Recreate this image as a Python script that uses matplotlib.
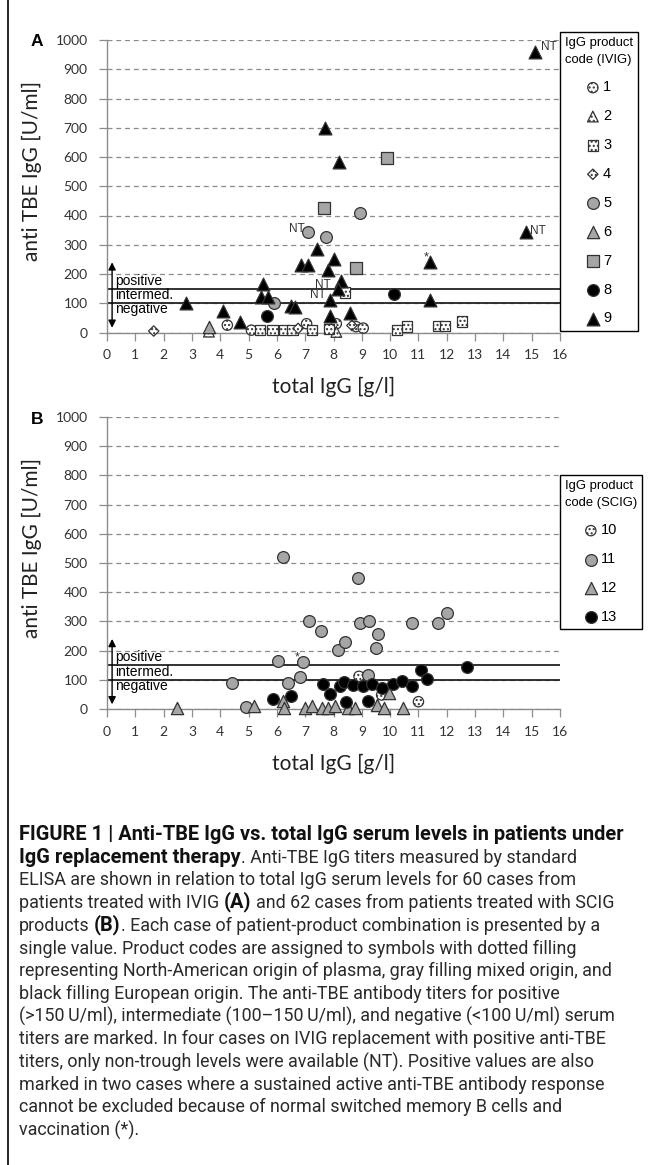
import matplotlib
matplotlib.use("Agg")
import matplotlib.pyplot as plt
from matplotlib.lines import Line2D

# ---- data: panel A (IVIG), one x / y list per product code ----
a1_x = [4.25, 5.1, 7.05, 8.1, 8.8, 9.05]
a1_y = [25, 8, 30, 30, 20, 15]
a2_x = [3.6, 8.1]
a2_y = [3, 2]
a3_x = [5.4, 5.85, 6.25, 6.55, 7.25, 7.85, 8.4, 10.25, 10.6, 11.7, 11.95, 12.55]
a3_y = [8, 8, 8, 8, 8, 12, 137, 8, 20, 22, 22, 38]
a4_x = [1.65, 6.75, 8.65]
a4_y = [5, 14, 24]
a5_x = [5.9, 7.1, 7.75, 8.95]
a5_y = [100, 345, 325, 410]
a6_x = [3.6]
a6_y = [20]
a7_x = [7.65, 8.8, 9.9]
a7_y = [425, 220, 595]
a8_x = [5.65, 10.15]
a8_y = [58, 130]
a9_x = [2.8, 4.1, 4.7, 5.45, 5.5, 5.7, 6.5, 6.65, 6.85, 7.1, 7.4, 7.7, 7.8, 8.0,
        8.2, 8.27, 8.17, 7.88, 7.88, 8.6, 11.4, 11.4, 14.8, 15.1]
a9_y = [100, 72, 35, 120, 165, 120, 90, 88, 232, 232, 285, 700, 215, 250,
        582, 175, 150, 110, 58, 65, 240, 110, 342, 960]

# ---- data: panel B (SCIG) ----
b10_x = [8.9, 9.7, 11.0]
b10_y = [112, 48, 25]
b11_x = [4.4, 4.9, 6.05, 6.2, 6.38, 6.82, 6.93, 7.15, 7.56, 8.15, 8.4, 8.85,
         8.94, 9.22, 9.26, 9.5, 9.56, 10.77, 11.7, 12.0]
b11_y = [88, 7, 165, 519, 88, 108, 160, 302, 268, 202, 228, 448,
         296, 115, 302, 208, 258, 296, 296, 328]
b12_x = [2.47, 5.2, 6.2, 6.26, 7.0, 7.25, 7.6, 7.8, 8.05, 8.5, 8.76, 9.54, 9.8, 9.97, 10.45]
b12_y = [3, 10, 28, 3, 3, 10, 3, 3, 10, 3, 3, 14, 3, 55, 3]
b13_x = [5.86, 6.5, 7.62, 7.88, 8.23, 8.37, 8.44, 8.68, 9.03, 9.22, 9.37, 9.7,
         10.1, 10.41, 10.78, 11.1, 11.3, 12.7]
b13_y = [33, 45, 84, 50, 80, 93, 24, 82, 79, 28, 84, 72,
         85, 96, 79, 134, 103, 145]

x_ticks = list(range(0, 17))
y_ticks = list(range(0, 1001, 100))

# NT / * annotations (x, y, text)
a_notes = [(15.33, 976, "NT"), (14.95, 346, "NT"), (6.43, 353, "NT"),
           (7.35, 164, "NT"), (7.17, 127, "NT"), (11.2, 257, "*")]
b_notes = [(6.64, 175, "*")]

# marker style per product code
DOT, GRAY, BLACK = "white", "#a6a6a6", "black"
STYLE = {
    1: dict(m="o", s=55, fc=DOT, h="...."),
    2: dict(m="^", s=60, fc=DOT, h="...."),
    3: dict(m="s", s=55, fc=DOT, h="...."),
    4: dict(m="D", s=28, fc=DOT, h="...."),
    5: dict(m="o", s=72, fc=GRAY, h=None),
    6: dict(m="^", s=78, fc=GRAY, h=None),
    7: dict(m="s", s=78, fc=GRAY, h=None),
    8: dict(m="o", s=72, fc=BLACK, h=None),
    9: dict(m="^", s=85, fc=BLACK, h=None),
    10: dict(m="o", s=55, fc=DOT, h="...."),
    11: dict(m="o", s=72, fc=GRAY, h=None),
    12: dict(m="^", s=78, fc=GRAY, h=None),
    13: dict(m="o", s=72, fc=BLACK, h=None),
}

plt.rcParams["hatch.linewidth"] = 1.0

W, H = 656, 1165
fig = plt.figure(figsize=(W / 100, H / 100), dpi=100)


def fx(px):
    return px / W


def fy(py):
    return 1 - py / H


TICK = "Lato"
ARIAL = "Liberation Sans"
AXC = "#8c8c8c"


def panel(top_px, bot_px, series, notes, title, leg_top, letter):
    ax = fig.add_axes([fx(107), fy(bot_px), fx(560) - fx(107), fy(top_px) - fy(bot_px)])
    for code, xs, ys in series:
        st = STYLE[code]
        ax.scatter(xs, ys, marker=st["m"], s=st["s"], facecolor=st["fc"],
                   edgecolor="#333333", hatch=st["h"], linewidths=0.9,
                   label=str(code), zorder=3, clip_on=False)
    ax.set_xlim(0, 16)
    ax.set_ylim(0, 1000)
    ax.set_xticks(x_ticks)
    ax.set_yticks(y_ticks)
    for s in ["top", "right"]:
        ax.spines[s].set_visible(False)
    for s in ["left", "bottom"]:
        ax.spines[s].set_color(AXC)
        ax.spines[s].set_linewidth(1.0)
    ax.tick_params(colors=AXC, labelcolor="#333333", length=6, width=0.9,
                   direction="out", labelsize=10)
    ax.tick_params(axis="y", pad=8)
    ax.tick_params(axis="x", pad=6)
    for lab in ax.get_xticklabels() + ax.get_yticklabels():
        lab.set_family(TICK)
    ax.yaxis.grid(True, linestyle=(0, (4, 3)), color=AXC, lw=0.9)
    ax.set_axisbelow(True)

    ax.axhline(150, color="#222222", lw=1.3, zorder=2)
    ax.axhline(100, color="#222222", lw=1.3, zorder=2)
    ax.annotate("", xy=(0.18, 240), xytext=(0.18, 16),
                arrowprops=dict(arrowstyle="<|-|>", color="black", lw=1,
                                mutation_scale=11, shrinkA=0, shrinkB=0))
    for yv, t in [(177, "positive"), (128, "intermed."), (79, "negative")]:
        ax.text(0.28, yv, t, fontsize=10, family=ARIAL, va="center", ha="left", zorder=4)

    for xv, yv, t in notes:
        ax.text(xv, yv, t, fontsize=8.5 if t == "NT" else 9, family=ARIAL,
                color="#333333", va="center", ha="left", zorder=4)

    ax.set_ylabel("anti TBE IgG [U/ml]", fontsize=15, family=TICK, color="#222222")
    ax.yaxis.set_label_coords(-0.1435, 0.553)
    ax.set_xlabel("total IgG [g/l]", fontsize=15, family=TICK, color="#222222")
    ax.xaxis.set_label_coords(0.5, -0.153)

    leg = ax.legend(title=title, loc="upper left",
                    bbox_to_anchor=(fx(560), fy(leg_top)), bbox_transform=fig.transFigure,
                    borderaxespad=0, frameon=True, fancybox=False, edgecolor="black",
                    prop=dict(family=ARIAL, size=10.5),
                    title_fontproperties=dict(family=ARIAL, size=9.4),
                    labelspacing=1.02, handlelength=0.8, handletextpad=0.3,
                    alignment="center", borderpad=0.35, scatterpoints=1, framealpha=1)
    leg.get_frame().set_linewidth(1.0)
    leg.get_title().set_linespacing(1.5)

    fig.text(fx(37), fy(top_px + 2), letter, fontsize=12.5, weight="bold",
             family=ARIAL, ha="center", va="center")
    return ax


panel(40, 332.5,
      [(1, a1_x, a1_y), (2, a2_x, a2_y), (3, a3_x, a3_y), (4, a4_x, a4_y),
       (5, a5_x, a5_y), (6, a6_x, a6_y), (7, a7_x, a7_y), (8, a8_x, a8_y),
       (9, a9_x, a9_y)],
      a_notes, "IgG product\ncode (IVIG)", 32, "A")
panel(417, 709,
      [(10, b10_x, b10_y), (11, b11_x, b11_y), (12, b12_x, b12_y), (13, b13_x, b13_y)],
      b_notes, "IgG product\ncode (SCIG)", 475, "B")

# left frame line
fig.add_artist(Line2D([fx(8), fx(8)], [0, 1], color="black", lw=1.2))

# ---- caption ----
CAP = ["Roboto", "DejaVu Sans"]
B, R = "bold", "normal"
caption = [
    [(B, "FIGURE 1 | Anti-TBE IgG vs. total IgG serum levels in patients under")],
    [(B, "IgG replacement therapy"), (R, ". Anti-TBE IgG titers measured by standard")],
    [(R, "ELISA are shown in relation to total IgG serum levels for 60 cases from")],
    [(R, "patients treated with IVIG"), (B, " (A)"), (R, " and 62 cases from patients treated with SCIG")],
    [(R, "products"), (B, " (B)"), (R, ". Each case of patient-product combination is presented by a")],
    [(R, "single value. Product codes are assigned to symbols with dotted filling")],
    [(R, "representing North-American origin of plasma, gray filling mixed origin, and")],
    [(R, "black filling European origin. The anti-TBE antibody titers for positive")],
    [(R, "(>150\u2009U/ml), intermediate (100\u2013150\u2009U/ml), and negative (<100\u2009U/ml) serum")],
    [(R, "titers are marked. In four cases on IVIG replacement with positive anti-TBE")],
    [(R, "titers, only non-trough levels were available (NT). Positive values are also")],
    [(R, "marked in two cases where a sustained active anti-TBE antibody response")],
    [(R, "cannot be excluded because of normal switched memory B cells and")],
    [(R, "vaccination (*).")],
]

# size bold and regular text so that line 1 / line 3 span their widths in the reference
r = fig.canvas.get_renderer()
probe = fig.text(0, 0, caption[0][0][1], fontsize=10, weight="bold", family=CAP)
size_b = 10 * 603 / probe.get_window_extent(r).width
probe.remove()
probe = fig.text(0, 0, caption[2][0][1], fontsize=10, weight="normal", family=CAP)
size_r = 10 * 559 / probe.get_window_extent(r).width
probe.remove()

for i, line in enumerate(caption):
    yc = 835 + i * 22.7
    last = None
    for w, t in line:
        lead = t.startswith(" ")
        t = t.lstrip(" ")
        size = size_b if w == B else size_r
        col = "#111111" if w == B else "#2a2a2a"
        if last is None:
            last = fig.text(fx(19), fy(yc), t, fontsize=size, weight=w, family=CAP,
                            color=col, ha="left", va="center")
        else:
            last = plt.annotate(t, xy=(1, 0), xycoords=last,
                                xytext=(size_r * 0.25 if lead else 0, 0),
                                textcoords="offset points", fontsize=size, weight=w,
                                family=CAP, color=col, ha="left", va="bottom",
                                annotation_clip=False)

fig.savefig("out.png", dpi=100)
